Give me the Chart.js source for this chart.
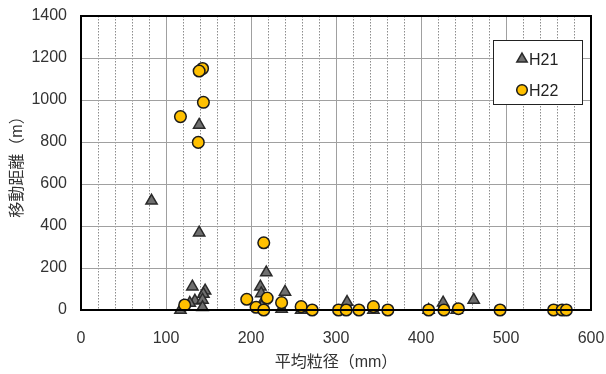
<!DOCTYPE html>
<html>
<head>
<meta charset="utf-8">
<script src="https://cdn.jsdelivr.net/npm/chart.js@4"></script>
<style>
  html, body { margin: 0; padding: 0; background: #fff; }
  #wrap { width: 606px; height: 374px; }
</style>
</head>
<body>
<div id="wrap"><canvas id="grainChart"></canvas></div>
<script>
// H21 (triangles)
var h21X = [83, 139, 139, 131, 146, 144, 134, 143, 143, 117, 128, 211, 212, 218, 215, 213, 240, 236, 259, 313, 344, 409, 426, 442, 462];
var h21Y = [520, 881, 368, 111, 92, 76, 44, 48, 13, 0, 33, 111, 79, 178, 47, 20, 86, 5, 0, 38, 0, 0, 35, 0, 48];
// H22 (circles)
var h22X = [143, 139, 144, 117, 138, 122, 215, 195, 219, 206, 215, 236, 259, 272, 303, 312, 327, 344, 361, 409, 427, 444, 493, 556, 566, 571];
var h22Y = [1150, 1138, 989, 921, 798, 24, 320, 51, 57, 13, 0, 35, 16, 0, 0, 0, 0, 16, 0, 0, 0, 6, 0, 0, 0, 0];

var xTicks = [0, 100, 200, 300, 400, 500, 600];
var seriesNames = ['H21', 'H22'];

function toPoints(xs, ys) {
    return xs.map(function (x, i) { return { x: x, y: ys[i] }; });
}

var fontFamily = "'Liberation Sans', 'Noto Sans CJK JP', sans-serif";

// frame round the plot + boxed legend
var framePlugin = {
    id: 'frame',
    afterDraw: function (chart) {
        var c = chart.ctx, a = chart.chartArea;
        c.save();
        c.strokeStyle = '#000';
        c.lineWidth = 2;
        c.strokeRect(a.left, a.top, a.right - a.left, a.bottom - a.top);

        // legend box
        var bx = 493, by = 40, bw = 89, bh = 64;
        c.fillStyle = '#fff';
        c.fillRect(bx, by, bw, bh);
        c.lineWidth = 1;
        c.strokeStyle = '#222';
        c.strokeRect(bx + 0.5, by + 0.5, bw, bh);

        chart.data.datasets.forEach(function (ds, i) {
            var cy = by + 19 + i * 31;
            c.fillStyle = ds.backgroundColor;
            c.strokeStyle = ds.borderColor;
            c.lineWidth = ds.borderWidth;
            Chart.helpers.drawPoint(c, {
                pointStyle: ds.pointStyle,
                radius: ds.pointRadius - 0.5,
                borderWidth: ds.borderWidth,
                rotation: 0
            }, bx + 29, cy);
            c.fillStyle = '#222';
            c.font = '16px ' + fontFamily;
            c.textBaseline = 'middle';
            c.textAlign = 'left';
            c.fillText(seriesNames[i], bx + 36, cy + 2);
        });
        c.restore();
    }
};

var ctx = document.getElementById('grainChart');
new Chart(ctx, {
    type: 'scatter',
    data: {
        datasets: [{
            label: seriesNames[0],
            data: toPoints(h21X, h21Y),
            pointStyle: 'triangle',
            pointRadius: 6.5,
            pointHoverRadius: 6.5,
            backgroundColor: '#6f6f6f',
            borderColor: '#2a2a2a',
            borderWidth: 1.5,
            clip: false,
            order: 2
        }, {
            label: seriesNames[1],
            data: toPoints(h22X, h22Y),
            pointStyle: 'circle',
            pointRadius: 5.8,
            pointHoverRadius: 5.8,
            backgroundColor: '#ffc000',
            borderColor: '#1a1a1a',
            borderWidth: 1.5,
            clip: false,
            order: 1
        }]
    },
    options: {
        responsive: true,
        maintainAspectRatio: false,
        animation: false,
        layout: { padding: { top: 16, right: 15, left: 8, bottom: 0 } },
        plugins: {
            legend: { display: false },
            tooltip: { enabled: false }
        },
        scales: {
            x: {
                type: 'linear',
                min: 0,
                max: 600,
                afterBuildTicks: function (scale) {
                    var t = [];
                    for (var v = 0; v <= 600; v += 20) t.push({ value: v });
                    scale.ticks = t;
                },
                afterFit: function (scale) {
                    scale.height = 64;
                    scale.paddingLeft = 0;
                    scale.paddingRight = 0;
                },
                ticks: {
                    autoSkip: false,
                    maxRotation: 0,
                    padding: 19,
                    color: '#333',
                    font: { size: 16, family: fontFamily },
                    callback: function (v) { return xTicks.indexOf(v) >= 0 ? String(v) : ''; }
                },
                grid: {
                    drawTicks: false,
                    color: function (c) { return c.tick && c.tick.value % 100 ? '#8c8c8c' : '#a0a0a0'; },
                    lineWidth: 1
                },
                border: {
                    display: false,
                    dash: function (c) { return c.tick && c.tick.value % 100 ? [1.5, 1.5] : []; }
                },
                title: {
                    display: true,
                    text: '平均粒径（mm）',
                    color: '#333',
                    font: { size: 16, family: fontFamily },
                    padding: { top: 0, bottom: 2 }
                }
            },
            y: {
                min: 0,
                max: 1400,
                afterFit: function (scale) {
                    scale.width = 73;
                    scale.paddingTop = 0;
                    scale.paddingBottom = 0;
                },
                ticks: {
                    stepSize: 200,
                    padding: 14,
                    color: '#333',
                    font: { size: 16, family: fontFamily },
                    callback: function (v) { return String(v); }
                },
                grid: {
                    drawTicks: false,
                    color: '#a0a0a0',
                    lineWidth: 1
                },
                border: { display: false },
                title: {
                    display: true,
                    text: '移動距離（m）',
                    color: '#333',
                    font: { size: 16, family: fontFamily },
                    padding: { top: 0, bottom: 0 }
                }
            }
        }
    },
    plugins: [framePlugin]
});
</script>
</body>
</html>
